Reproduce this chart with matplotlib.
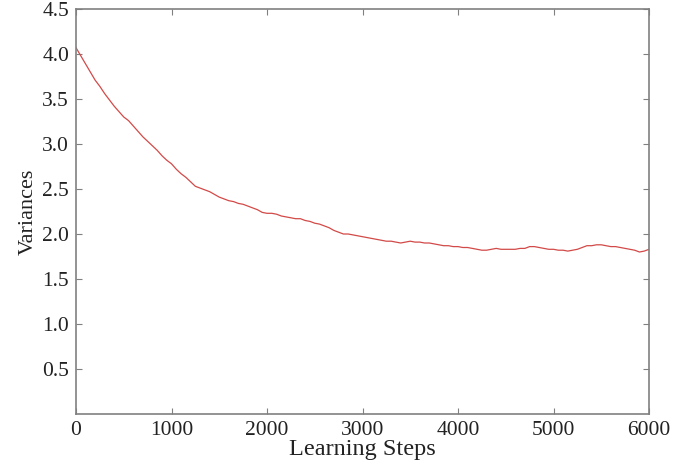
import matplotlib
matplotlib.use("Agg")
import matplotlib.pyplot as plt
import numpy as np

steps = list(range(0, 6001, 50))
variances = [
    4.07, 3.98, 3.89, 3.80, 3.71, 3.64, 3.56, 3.49, 3.42, 3.36,
    3.30, 3.26, 3.20, 3.14, 3.08, 3.03, 2.98, 2.93, 2.87, 2.82,
    2.78, 2.72, 2.67, 2.63, 2.58, 2.53, 2.51, 2.49, 2.47, 2.44,
    2.41, 2.39, 2.37, 2.36, 2.34, 2.33, 2.31, 2.29, 2.27, 2.24,
    2.23, 2.23, 2.22, 2.20, 2.19, 2.18, 2.17, 2.17, 2.15, 2.14,
    2.12, 2.11, 2.09, 2.07, 2.04, 2.02, 2.00, 2.00, 1.99, 1.98,
    1.97, 1.96, 1.95, 1.94, 1.93, 1.92, 1.92, 1.91, 1.90, 1.91,
    1.92, 1.91, 1.91, 1.90, 1.90, 1.89, 1.88, 1.87, 1.87, 1.86,
    1.86, 1.85, 1.85, 1.84, 1.83, 1.82, 1.82, 1.83, 1.84, 1.83,
    1.83, 1.83, 1.83, 1.84, 1.84, 1.86, 1.86, 1.85, 1.84, 1.83,
    1.83, 1.82, 1.82, 1.81, 1.82, 1.83, 1.85, 1.87, 1.87, 1.88,
    1.88, 1.87, 1.86, 1.86, 1.85, 1.84, 1.83, 1.82, 1.80, 1.81,
    1.83,
]
xticks = [0, 1000, 2000, 3000, 4000, 5000, 6000]
yticks = [0.5, 1.0, 1.5, 2.0, 2.5, 3.0, 3.5, 4.0, 4.5]

plt.rcParams['font.family'] = ['Liberation Serif', 'DejaVu Serif']

fig = plt.figure(figsize=(7, 4.71), dpi=100)
ax = fig.add_axes([76/700, 1 - 414/471, (649-76)/700, (414-9)/471])
ax.plot(steps, variances, color='#d24a48', lw=0.9)
ax.set_xlim(0, 6000)
ax.set_ylim(0, 4.5)
ax.set_xticks(xticks)
ax.set_xticklabels([str(t) for t in xticks])
ax.set_yticks(yticks)
ax.set_yticklabels([f"{t:.1f}" for t in yticks])
ax.tick_params(direction='in', length=4, width=0.8, color='#808080',
               top=True, right=True, labelsize=15.5, labelcolor='#222222', pad=5)
for s in ax.spines.values():
    s.set_color('#808080')
    s.set_linewidth(1.2)
ax.set_xlabel('Learning Steps', fontsize=17.5, color='#222222', labelpad=-1)
ax.set_ylabel('Variances', fontsize=16, color='#222222', labelpad=3)
fig.savefig('out.png', dpi=100)
